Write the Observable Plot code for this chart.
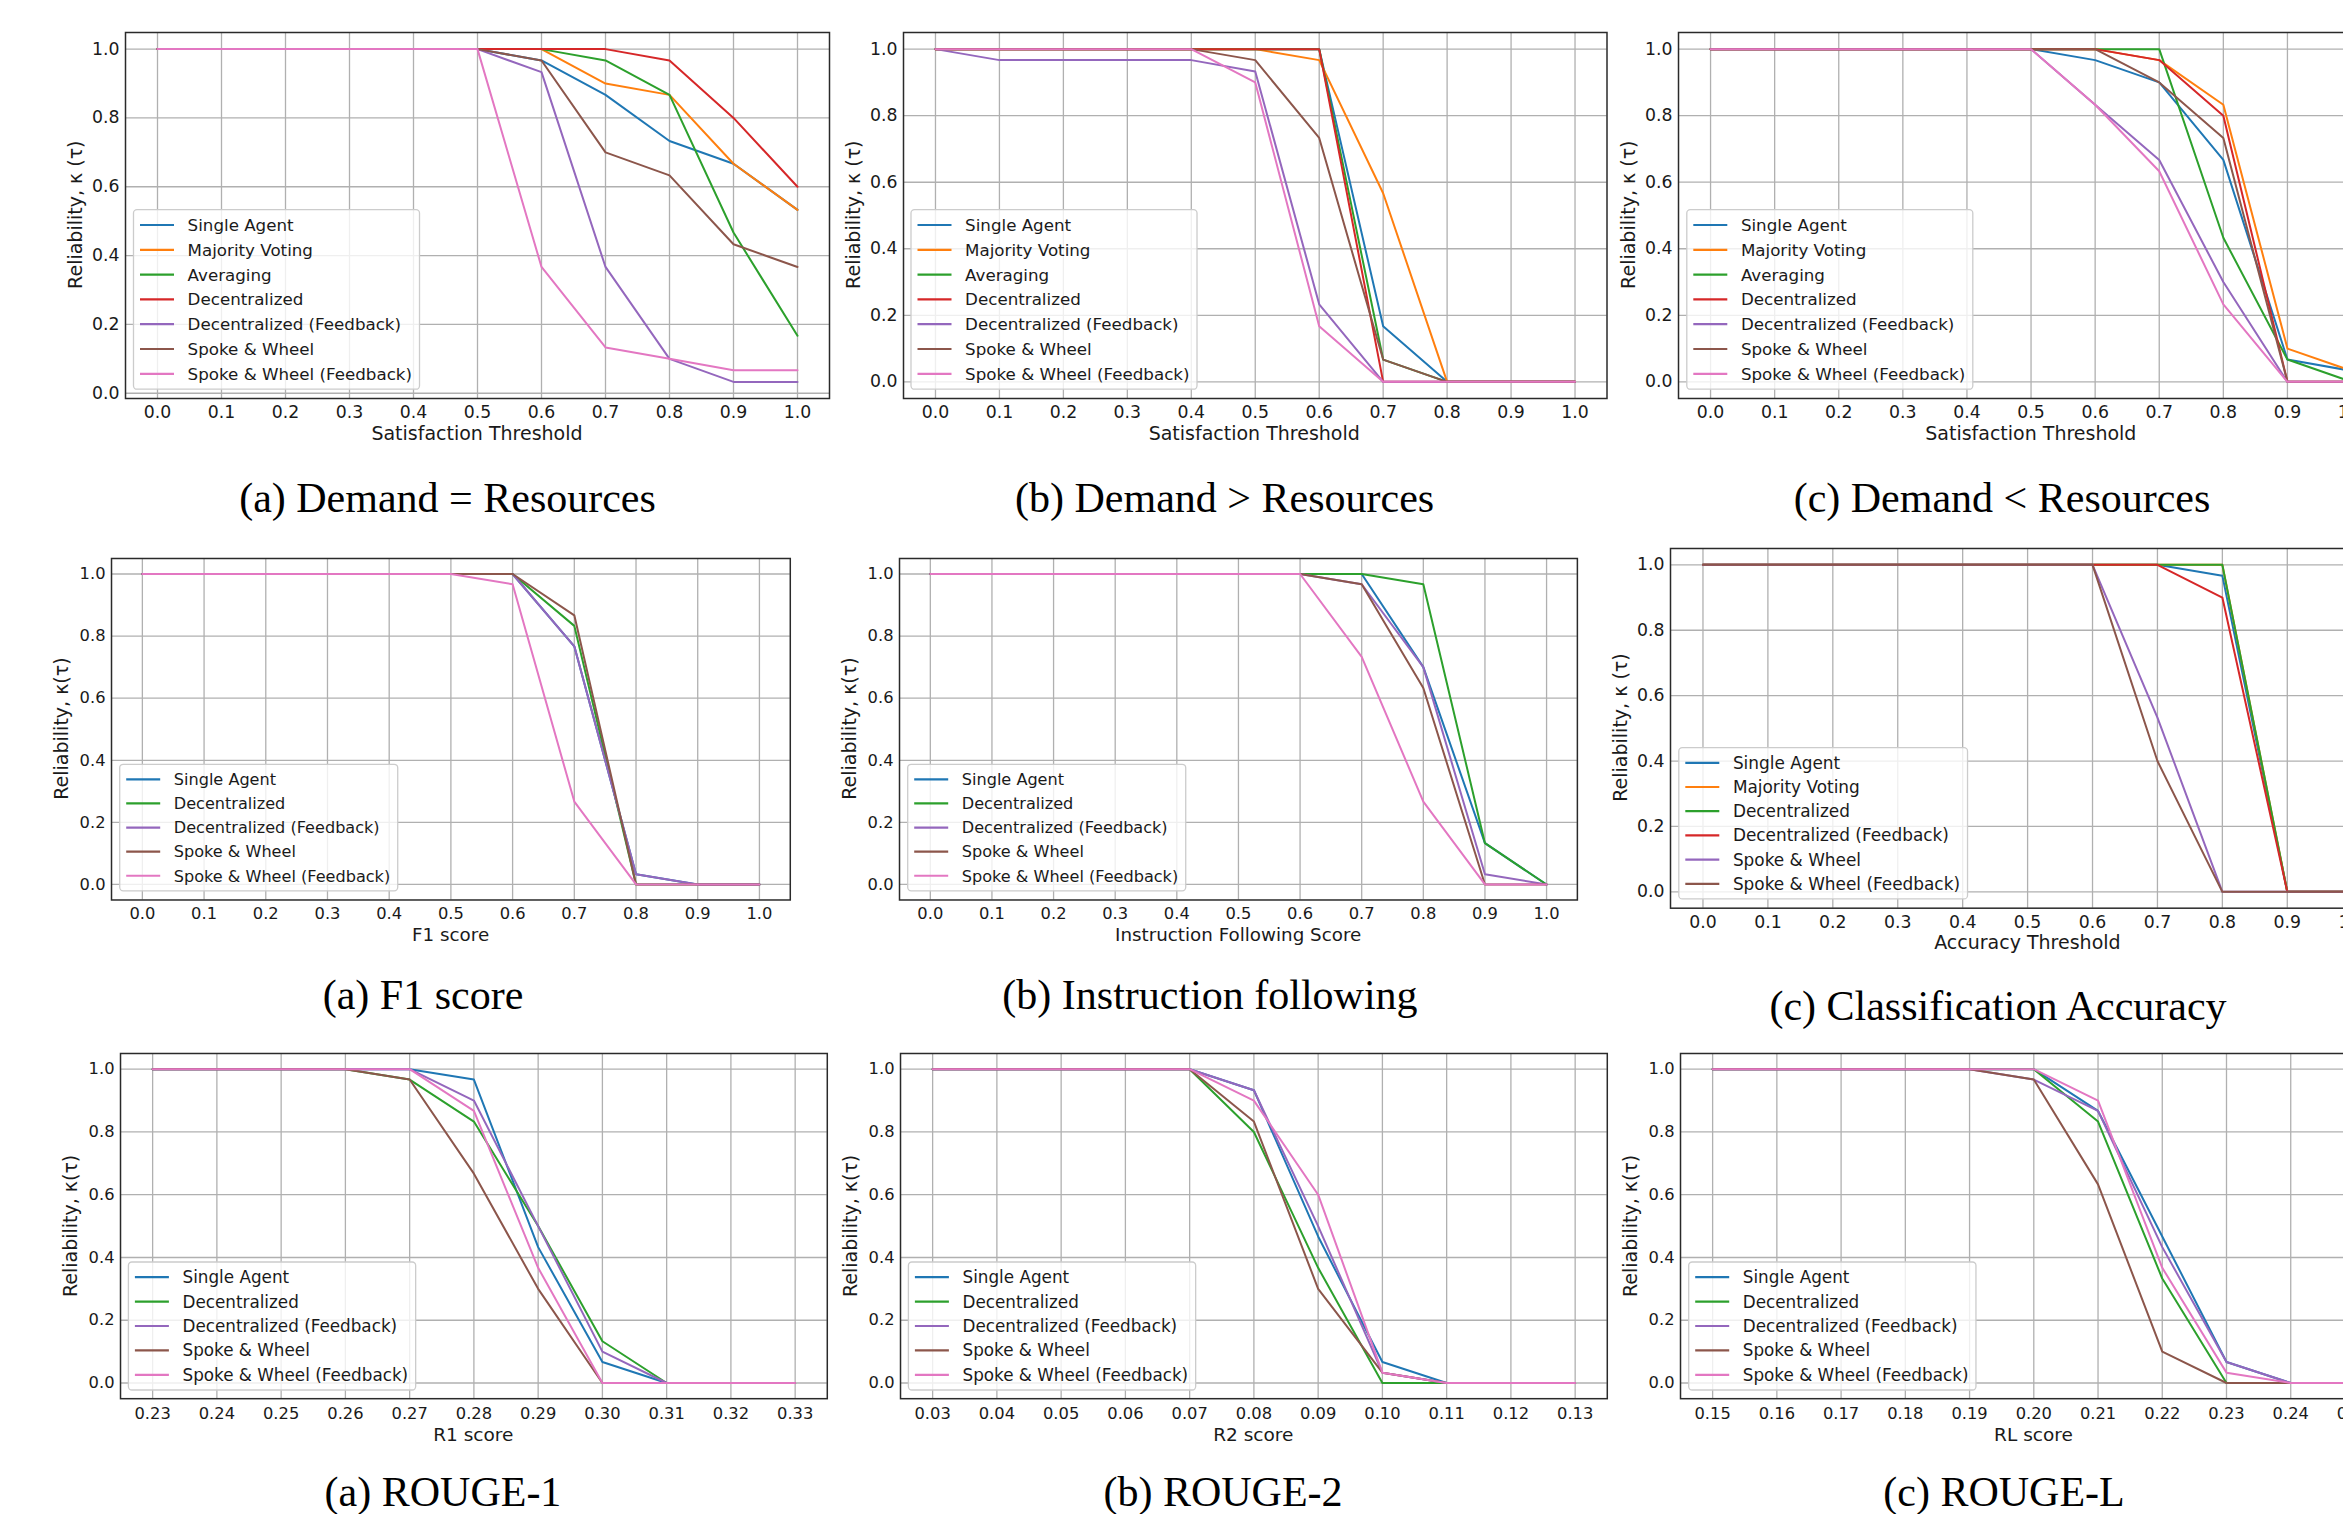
<!DOCTYPE html>
<html>
<head>
<meta charset="utf-8">
<script src="https://cdn.jsdelivr.net/npm/d3@7"></script>
<script src="https://cdn.jsdelivr.net/npm/@observablehq/plot@0.6"></script>
<style>
html, body { margin: 0; padding: 0; overflow: hidden; background: #fff; }
#page { position: relative; width: 2343px; height: 1514px; overflow: hidden; background: #fff; }
.panel { position: absolute; }
#overlay { position: absolute; left: 0; top: 0; pointer-events: none; }
</style>
</head>
<body>
<div id="page"></div>
<script>
// ---------------- DATA ----------------
const thresholdSteps = [0.0, 0.1, 0.2, 0.3, 0.4, 0.5, 0.6, 0.7, 0.8, 0.9, 1.0];
const rouge1Steps = [0.23, 0.24, 0.25, 0.26, 0.27, 0.28, 0.29, 0.30, 0.31, 0.32, 0.33];
const rouge2Steps = [0.03, 0.04, 0.05, 0.06, 0.07, 0.08, 0.09, 0.10, 0.11, 0.12, 0.13];
const rougeLSteps = [0.15, 0.16, 0.17, 0.18, 0.19, 0.20, 0.21, 0.22, 0.23, 0.24, 0.25];
const yTickValues = [0.0, 0.2, 0.4, 0.6, 0.8, 1.0];

const seriesSeven = ["Single Agent", "Majority Voting", "Averaging", "Decentralized", "Decentralized (Feedback)", "Spoke & Wheel", "Spoke & Wheel (Feedback)"];
const seriesFive = ["Single Agent", "Decentralized", "Decentralized (Feedback)", "Spoke & Wheel", "Spoke & Wheel (Feedback)"];
const seriesSix = ["Single Agent", "Majority Voting", "Decentralized", "Decentralized (Feedback)", "Spoke & Wheel", "Spoke & Wheel (Feedback)"];

// (a) Demand = Resources
const demandEqualValues = [
  [1, 1, 1, 1, 1, 1, 0.967, 0.867, 0.733, 0.667, 0.533],
  [1, 1, 1, 1, 1, 1, 1, 0.9, 0.867, 0.667, 0.533],
  [1, 1, 1, 1, 1, 1, 1, 0.967, 0.867, 0.467, 0.167],
  [1, 1, 1, 1, 1, 1, 1, 1, 0.967, 0.8, 0.6],
  [1, 1, 1, 1, 1, 1, 0.933, 0.367, 0.1, 0.033, 0.033],
  [1, 1, 1, 1, 1, 1, 0.967, 0.7, 0.633, 0.433, 0.367],
  [1, 1, 1, 1, 1, 1, 0.367, 0.133, 0.1, 0.067, 0.067]
];
// (b) Demand > Resources
const demandGreaterValues = [
  [1, 1, 1, 1, 1, 1, 1, 0.167, 0, 0, 0],
  [1, 1, 1, 1, 1, 1, 0.967, 0.567, 0, 0, 0],
  [1, 1, 1, 1, 1, 1, 1, 0.067, 0, 0, 0],
  [1, 1, 1, 1, 1, 1, 1, 0, 0, 0, 0],
  [1, 0.967, 0.967, 0.967, 0.967, 0.933, 0.233, 0, 0, 0, 0],
  [1, 1, 1, 1, 1, 0.967, 0.733, 0.067, 0, 0, 0],
  [1, 1, 1, 1, 1, 0.9, 0.167, 0, 0, 0, 0]
];
// (c) Demand < Resources
const demandLessValues = [
  [1, 1, 1, 1, 1, 1, 0.967, 0.9, 0.667, 0.067, 0.033],
  [1, 1, 1, 1, 1, 1, 1, 0.967, 0.833, 0.1, 0.033],
  [1, 1, 1, 1, 1, 1, 1, 1, 0.433, 0.067, 0],
  [1, 1, 1, 1, 1, 1, 1, 0.967, 0.8, 0, 0],
  [1, 1, 1, 1, 1, 1, 0.833, 0.667, 0.3, 0, 0],
  [1, 1, 1, 1, 1, 1, 1, 0.9, 0.733, 0, 0],
  [1, 1, 1, 1, 1, 1, 0.833, 0.633, 0.233, 0, 0]
];
// (a) F1 score
const f1Values = [
  [1, 1, 1, 1, 1, 1, 1, 0.767, 0.033, 0, 0],
  [1, 1, 1, 1, 1, 1, 1, 0.833, 0, 0, 0],
  [1, 1, 1, 1, 1, 1, 1, 0.767, 0.033, 0, 0],
  [1, 1, 1, 1, 1, 1, 1, 0.867, 0, 0, 0],
  [1, 1, 1, 1, 1, 1, 0.967, 0.267, 0, 0, 0]
];
// (b) Instruction following
const instructionValues = [
  [1, 1, 1, 1, 1, 1, 1, 1, 0.7, 0.133, 0],
  [1, 1, 1, 1, 1, 1, 1, 1, 0.967, 0.133, 0],
  [1, 1, 1, 1, 1, 1, 1, 0.967, 0.7, 0.033, 0],
  [1, 1, 1, 1, 1, 1, 1, 0.967, 0.633, 0, 0],
  [1, 1, 1, 1, 1, 1, 1, 0.733, 0.267, 0, 0]
];
// (c) Classification Accuracy
const accuracyValues = [
  [1, 1, 1, 1, 1, 1, 1, 1, 0.967, 0, 0],
  [1, 1, 1, 1, 1, 1, 1, 1, 1, 0, 0],
  [1, 1, 1, 1, 1, 1, 1, 1, 1, 0, 0],
  [1, 1, 1, 1, 1, 1, 1, 1, 0.9, 0, 0],
  [1, 1, 1, 1, 1, 1, 1, 0.533, 0, 0, 0],
  [1, 1, 1, 1, 1, 1, 1, 0.4, 0, 0, 0]
];
// (a) ROUGE-1
const rouge1Values = [
  [1, 1, 1, 1, 1, 0.967, 0.433, 0.067, 0, 0, 0],
  [1, 1, 1, 1, 0.967, 0.833, 0.5, 0.133, 0, 0, 0],
  [1, 1, 1, 1, 1, 0.9, 0.5, 0.1, 0, 0, 0],
  [1, 1, 1, 1, 0.967, 0.667, 0.3, 0, 0, 0, 0],
  [1, 1, 1, 1, 1, 0.867, 0.367, 0, 0, 0, 0]
];
// (b) ROUGE-2
const rouge2Values = [
  [1, 1, 1, 1, 1, 0.933, 0.467, 0.067, 0, 0, 0],
  [1, 1, 1, 1, 1, 0.8, 0.367, 0, 0, 0, 0],
  [1, 1, 1, 1, 1, 0.933, 0.5, 0.033, 0, 0, 0],
  [1, 1, 1, 1, 1, 0.833, 0.3, 0.033, 0, 0, 0],
  [1, 1, 1, 1, 1, 0.9, 0.6, 0.033, 0, 0, 0]
];
// (c) ROUGE-L
const rougeLValues = [
  [1, 1, 1, 1, 1, 1, 0.867, 0.467, 0.067, 0, 0],
  [1, 1, 1, 1, 1, 1, 0.833, 0.333, 0, 0, 0],
  [1, 1, 1, 1, 1, 0.967, 0.867, 0.433, 0.067, 0, 0],
  [1, 1, 1, 1, 1, 0.967, 0.633, 0.1, 0, 0, 0],
  [1, 1, 1, 1, 1, 1, 0.9, 0.367, 0.033, 0, 0]
];

// ---------------- STYLE / LAYOUT ----------------
const colorsSeven = ["#1f77b4", "#ff7f0e", "#2ca02c", "#d62728", "#9467bd", "#8c564b", "#e377c2"];
const colorsFive = ["#1f77b4", "#2ca02c", "#9467bd", "#8c564b", "#e377c2"];
const colorsSix = ["#1f77b4", "#ff7f0e", "#2ca02c", "#d62728", "#9467bd", "#8c564b"];

const panels = [
  {xs: thresholdSteps, names: seriesSeven, colors: colorsSeven, values: demandEqualValues, xLabel: "Satisfaction Threshold", yLabel: "Reliability, \u03BA (\u03C4)", caption: "(a) Demand = Resources", fmt: ".1f",
   FL: 125, FR: 829, FT: 31.7, FB: 397.7, yDomain: [-0.0153, 1.0483], capX: 447.5, capY: 511.5, tickFs: 17.3, labelFs: 19, legFs: 16.7, pitch: 24.8, xPad: 7.5},
  {xs: thresholdSteps, names: seriesSeven, colors: colorsSeven, values: demandGreaterValues, xLabel: "Satisfaction Threshold", yLabel: "Reliability, \u03BA (\u03C4)", caption: "(b) Demand > Resources", fmt: ".1f",
   FL: 902.5, FR: 1606, FT: 31.7, FB: 397.7, yDomain: [-0.05, 1.05], capX: 1224.6, capY: 511.5, tickFs: 17.3, labelFs: 19, legFs: 16.7, pitch: 24.8, xPad: 7.5},
  {xs: thresholdSteps, names: seriesSeven, colors: colorsSeven, values: demandLessValues, xLabel: "Satisfaction Threshold", yLabel: "Reliability, \u03BA (\u03C4)", caption: "(c) Demand < Resources", fmt: ".1f",
   FL: 1678.3, FR: 2383.4, FT: 31.7, FB: 397.7, yDomain: [-0.05, 1.05], capX: 2002, capY: 511.5, tickFs: 17.3, labelFs: 19, legFs: 16.7, pitch: 24.8, xPad: 7.5},
  {xs: thresholdSteps, names: seriesFive, colors: colorsFive, values: f1Values, xLabel: "F1 score", yLabel: "Reliability, \u03BA(\u03C4)", caption: "(a) F1 score", fmt: ".1f",
   FL: 111.2, FR: 790, FT: 557.8, FB: 899.3, yDomain: [-0.05, 1.05], capX: 423, capY: 1009, tickFs: 16.3, labelFs: 18.3, legFs: 16.1, pitch: 24.1, xPad: 7.5},
  {xs: thresholdSteps, names: seriesFive, colors: colorsFive, values: instructionValues, xLabel: "Instruction Following Score", yLabel: "Reliability, \u03BA(\u03C4)", caption: "(b) Instruction following", fmt: ".1f",
   FL: 899.2, FR: 1577.1, FT: 557.8, FB: 899.3, yDomain: [-0.05, 1.05], capX: 1210, capY: 1009, tickFs: 16.3, labelFs: 18.3, legFs: 16.1, pitch: 24.1, xPad: 7.5},
  {xs: thresholdSteps, names: seriesSix, colors: colorsSix, values: accuracyValues, xLabel: "Accuracy Threshold", yLabel: "Reliability, \u03BA (\u03C4)", caption: "(c) Classification Accuracy", fmt: ".1f",
   FL: 1670.3, FR: 2384.5, FT: 547.7, FB: 907.4, yDomain: [-0.05, 1.05], capX: 1998, capY: 1020, tickFs: 17.3, labelFs: 19, legFs: 16.9, pitch: 24.2, xPad: 7.5},
  {xs: rouge1Steps, names: seriesFive, colors: colorsFive, values: rouge1Values, xLabel: "R1 score", yLabel: "Reliability, \u03BA(\u03C4)", caption: "(a) ROUGE-1", fmt: ".2f",
   FL: 119.9, FR: 826.7, FT: 1053.3, FB: 1398.5, yDomain: [-0.05, 1.05], capX: 443, capY: 1506, tickFs: 16.3, labelFs: 18.5, legFs: 16.8, pitch: 24.4, xPad: 9},
  {xs: rouge2Steps, names: seriesFive, colors: colorsFive, values: rouge2Values, xLabel: "R2 score", yLabel: "Reliability, \u03BA(\u03C4)", caption: "(b) ROUGE-2", fmt: ".2f",
   FL: 899.9, FR: 1606.7, FT: 1053.3, FB: 1398.5, yDomain: [-0.05, 1.05], capX: 1223, capY: 1506, tickFs: 16.3, labelFs: 18.5, legFs: 16.8, pitch: 24.4, xPad: 9},
  {xs: rougeLSteps, names: seriesFive, colors: colorsFive, values: rougeLValues, xLabel: "RL score", yLabel: "Reliability, \u03BA(\u03C4)", caption: "(c) ROUGE-L", fmt: ".2f",
   FL: 1680.2, FR: 2386.8, FT: 1053.3, FB: 1398.5, yDomain: [-0.05, 1.05], capX: 2004, capY: 1506, tickFs: 16.3, labelFs: 18.5, legFs: 16.8, pitch: 24.4, xPad: 9}
];

const page = document.getElementById("page");
const ML = 80, MR = 10, MT = 10, MB = 40;

panels.forEach(p => {
  const rows = [];
  p.names.forEach((name, i) => p.xs.forEach((x, j) => rows.push({series: name, x: x, y: p.values[i][j]})));
  const x0 = p.xs[0], x1 = p.xs[p.xs.length - 1], xr = x1 - x0;
  const W = p.FR - p.FL + ML + MR;
  const H = p.FB - p.FT + MT + MB;
  const chart = Plot.plot({
    width: W, height: H,
    marginLeft: ML, marginRight: MR, marginTop: MT, marginBottom: MB,
    style: {fontFamily: "DejaVu Sans", fontSize: p.tickFs + "px", color: "#1a1a1a", background: "transparent", overflow: "visible", maxWidth: "none"},
    x: {domain: [x0 - 0.05 * xr, x1 + 0.05 * xr]},
    y: {domain: p.yDomain},
    color: {domain: p.names, range: p.colors},
    marks: [
      Plot.gridX(p.xs, {stroke: "#b0b0b0", strokeOpacity: 1, strokeWidth: 1.3}),
      Plot.gridY(yTickValues, {stroke: "#b0b0b0", strokeOpacity: 1, strokeWidth: 1.3}),
      Plot.line(rows, {x: "x", y: "y", z: "series", stroke: "series", strokeWidth: 2}),
      Plot.frame({stroke: "#2a2a2a", strokeWidth: 1.5}),
      Plot.axisX(p.xs, {tickSize: 0, tickPadding: p.xPad, tickFormat: d3.format(p.fmt), label: null}),
      Plot.axisY(yTickValues, {tickSize: 0, tickPadding: 6, tickFormat: d3.format(".1f"), label: null})
    ]
  });
  const div = document.createElement("div");
  div.className = "panel";
  div.style.left = (p.FL - ML) + "px";
  div.style.top = (p.FT - MT) + "px";
  div.style.width = W + "px";
  div.style.height = H + "px";
  div.appendChild(chart);
  page.appendChild(div);
});

// overlay: axis titles, legends, captions
const svg = d3.select(page).append("svg").attr("id", "overlay").attr("width", 2343).attr("height", 1514);

panels.forEach(p => {
  // x label
  svg.append("text")
    .attr("x", (p.FL + p.FR) / 2).attr("y", p.FB + 42)
    .attr("text-anchor", "middle")
    .style("font-family", "DejaVu Sans").style("font-size", p.labelFs + "px").style("fill", "#1a1a1a")
    .text(p.xLabel);
  // y label
  svg.append("text")
    .attr("transform", `translate(${p.FL - 49},${(p.FT + p.FB) / 2}) rotate(-90)`)
    .attr("text-anchor", "middle").attr("dy", "0.32em")
    .style("font-family", "DejaVu Sans").style("font-size", "19px").style("fill", "#1a1a1a")
    .text(p.yLabel);
  // caption
  svg.append("text")
    .attr("x", p.capX).attr("y", p.capY)
    .attr("text-anchor", "middle")
    .style("font-family", "'Liberation Serif', 'Times New Roman', serif").style("font-size", "42px").style("fill", "#000")
    .text(p.caption);

  // legend
  const g = svg.append("g");
  const fs = p.legFs, pitch = p.pitch, padT = 3, padL = 6.5, handle = 34, gap = 13.6, padR = 7.5;
  const tmp = g.selectAll("text.tmp").data(p.names).join("text")
    .style("font-family", "DejaVu Sans").style("font-size", fs + "px").text(d => d);
  let maxW = 0;
  tmp.each(function () { maxW = Math.max(maxW, this.getComputedTextLength()); });
  tmp.remove();
  const boxW = padL + handle + gap + maxW + padR;
  const boxH = 2 * padT + p.names.length * pitch;
  const bx = p.FL + 8.5, by = p.FB - 8.5 - boxH;
  g.append("rect").attr("x", bx).attr("y", by).attr("width", boxW).attr("height", boxH)
    .attr("rx", 3.5).attr("fill", "#fff").attr("fill-opacity", 0.8)
    .attr("stroke", "#cccccc").attr("stroke-width", 1.3);
  p.names.forEach((name, i) => {
    const cy = by + padT + pitch * (i + 0.5);
    g.append("line").attr("x1", bx + padL).attr("x2", bx + padL + handle).attr("y1", cy).attr("y2", cy)
      .attr("stroke", p.colors[i]).attr("stroke-width", 2.2);
    g.append("text").attr("x", bx + padL + handle + gap).attr("y", cy).attr("dy", "0.36em")
      .style("font-family", "DejaVu Sans").style("font-size", fs + "px").style("fill", "#1a1a1a")
      .text(name);
  });
});
</script>
</body>
</html>
